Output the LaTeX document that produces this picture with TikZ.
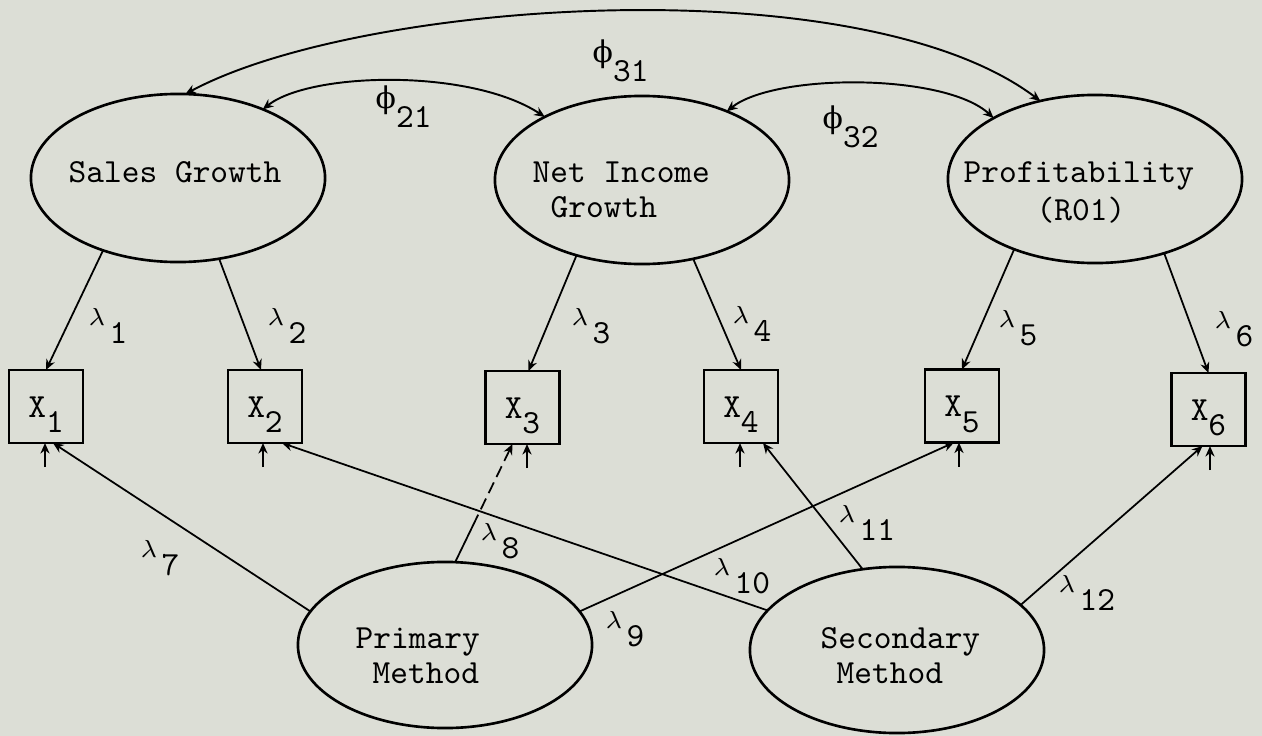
\documentclass[tikz,border=0pt]{standalone}
\usepackage{fontspec}
\usetikzlibrary{shapes.geometric,arrows.meta,calc}
\newfontfamily\phifont{DejaVu Serif}
\definecolor{bg}{RGB}{220,222,214}
\newcommand\mylam[1]{{\fontsize{7}{8}\selectfont$\lambda$}\hspace{1.2pt}\raisebox{-5.4pt}{#1}}
\newcommand\myphi[1]{{\phifont\fontsize{8.5}{9}\selectfont ϕ}\raisebox{-5.5pt}{#1}}
\begin{document}
\begin{tikzpicture}[x=0.01cm,y=-0.01cm,
  lat/.style={draw, ellipse, line width=0.75pt, minimum width=2.94cm, minimum height=1.68cm, inner sep=0pt, outer sep=0pt},
  obs/.style={draw, rectangle, line width=0.65pt, minimum width=0.74cm, minimum height=0.73cm, inner sep=0pt, outer sep=0pt, font=\ttfamily\fontsize{9.6}{11}\selectfont, text height=6pt, text depth=0pt},
  txt/.style={font=\ttfamily\fontsize{9.6}{11}\selectfont, anchor=base west, inner sep=0pt},
  lab/.style={anchor=base west, inner sep=0pt, font=\ttfamily\fontsize{9.6}{11}\selectfont},
  con/.style={line width=0.5pt, -{Stealth[length=3pt,width=2.6pt]}},
  cov/.style={line width=0.55pt, {Stealth[length=3pt,width=2.6pt]}-{Stealth[length=3pt,width=2.6pt]}},
]
\fill[bg] (0,0) rectangle (1262,736);
\useasboundingbox (0,0) rectangle (1262,736);

% latent variables
\node[lat] (SG) at (178,178) {};
\node[lat] (NI) at (642,180) {};
\node[lat] (PR) at (1095,179) {};
\node[lat, minimum height=1.66cm] (PM) at (445,645) {};
\node[lat, minimum height=1.66cm] (SM) at (897,650) {};

\node[txt] (tSG) at (68,182) {Sales Growth};
\node[txt] (tNI1) at (532,182) {Net Income};
\node[txt] (tNI2) at (550,217) {Growth};
\node[txt] (tPR1) at (963,182) {Profitability};
\node[txt] (tPR2) at (1036,220) {(R01)};
\node[txt] (tPM1) at (355,648) {Primary};
\node[txt] (tPM2) at (372,683) {Method};
\node[txt] (tSM1) at (820,648) {Secondary};
\node[txt] (tSM2) at (836,683) {Method};

% observed variables
\node[obs] (X1) at (46,406.5) {X\raisebox{-4.5pt}{1}};
\node[obs] (X2) at (265,406.5) {X\raisebox{-4.5pt}{2}};
\node[obs] (X3) at (522.5,407.5) {X\raisebox{-4.5pt}{3}};
\node[obs] (X4) at (741,406.5) {X\raisebox{-4.5pt}{4}};
\node[obs] (X5) at (962,406) {X\raisebox{-4.5pt}{5}};
\node[obs] (X6) at (1208.5,409.5) {X\raisebox{-4.5pt}{6}};

% loadings from traits
\draw[con] (SG.224) -- (X1.north);
\draw[con] (SG.-63) -- ($(X2.north)+(-4,0)$);
\draw[con] (NI.229) -- ($(X3.north)+(6,0)$);
\draw[con] (NI.-57) -- (X4.north);
\draw[con] (PR.221) -- (X5.north);
\draw[con] (PR.-47) -- (X6.north);

% loadings from methods
\draw[con] (PM.166) -- ($(X1.south)+(7,0)$);
\draw[con, dash pattern=on 15pt off 1.7pt on 3.4pt off 1.7pt on 3.4pt off 1.7pt on 3.4pt off 1.7pt on 3.4pt off 1.7pt on 10pt] (PM.83) -- ($(X3.south)+(-10,0)$);
\draw[con] (PM.14) -- ($(X5.south)+(-8,0)$);
\draw[con] (SM.163) -- ($(X2.south)+(17,0)$);
\draw[con] (SM.113) -- ($(X4.south)+(22,0)$);
\draw[con] (SM.20) -- ($(X6.south)+(-6,0)$);

% error stubs
\coordinate (e1) at ($(X1.south)+(-1,24)$);
\coordinate (e2) at ($(X2.south)+(-2,24)$);
\coordinate (e3) at ($(X3.south)+(4.5,24)$);
\coordinate (e4) at ($(X4.south)+(-1,24)$);
\coordinate (e5) at ($(X5.south)+(-3,24)$);
\coordinate (e6) at ($(X6.south)+(1.5,24)$);
\draw[con] (e1) -- ($(X1.south)+(-1,0)$);
\draw[con] (e2) -- ($(X2.south)+(-2,0)$);
\draw[con] (e3) -- ($(X3.south)+(4.5,0)$);
\draw[con] (e4) -- ($(X4.south)+(-1,0)$);
\draw[con] (e5) -- ($(X5.south)+(-3,0)$);
\draw[con] (e6) -- ($(X6.south)+(1.5,0)$);

% covariances
\draw[cov] (SG.85) .. controls (360,0) and (860,-35) .. (PR.125);
\draw[cov] (SG.39) .. controls (310,72) and (470,68) .. (NI.147);
\draw[cov] (NI.39) .. controls (775,73) and (945,73) .. (PR.149);

% labels
\node[lab] (p31) at (592,62) {\myphi{31}};
\node[lab] (p21) at (375,108) {\myphi{21}};
\node[lab] (p32) at (822,128) {\myphi{32}};

\node[lab] (l1) at (88,325) {\mylam{1}};
\node[lab] (l2) at (267,325) {\mylam{2}};
\node[lab] (l3) at (571,325) {\mylam{3}};
\node[lab] (l4) at (732,323) {\mylam{4}};
\node[lab] (l5) at (998,327) {\mylam{5}};
\node[lab] (l6) at (1214,328) {\mylam{6}};
\node[lab] (l7) at (140,557) {\mylam{7}};
\node[lab] (l8) at (480,540) {\mylam{8}};
\node[lab] (l9) at (605,628) {\mylam{9}};
\node[lab] (l10) at (713,575) {\mylam{10}};
\node[lab] (l11) at (838,522) {\mylam{11}};
\node[lab] (l12) at (1058,592) {\mylam{12}};
\end{tikzpicture}
\end{document}
